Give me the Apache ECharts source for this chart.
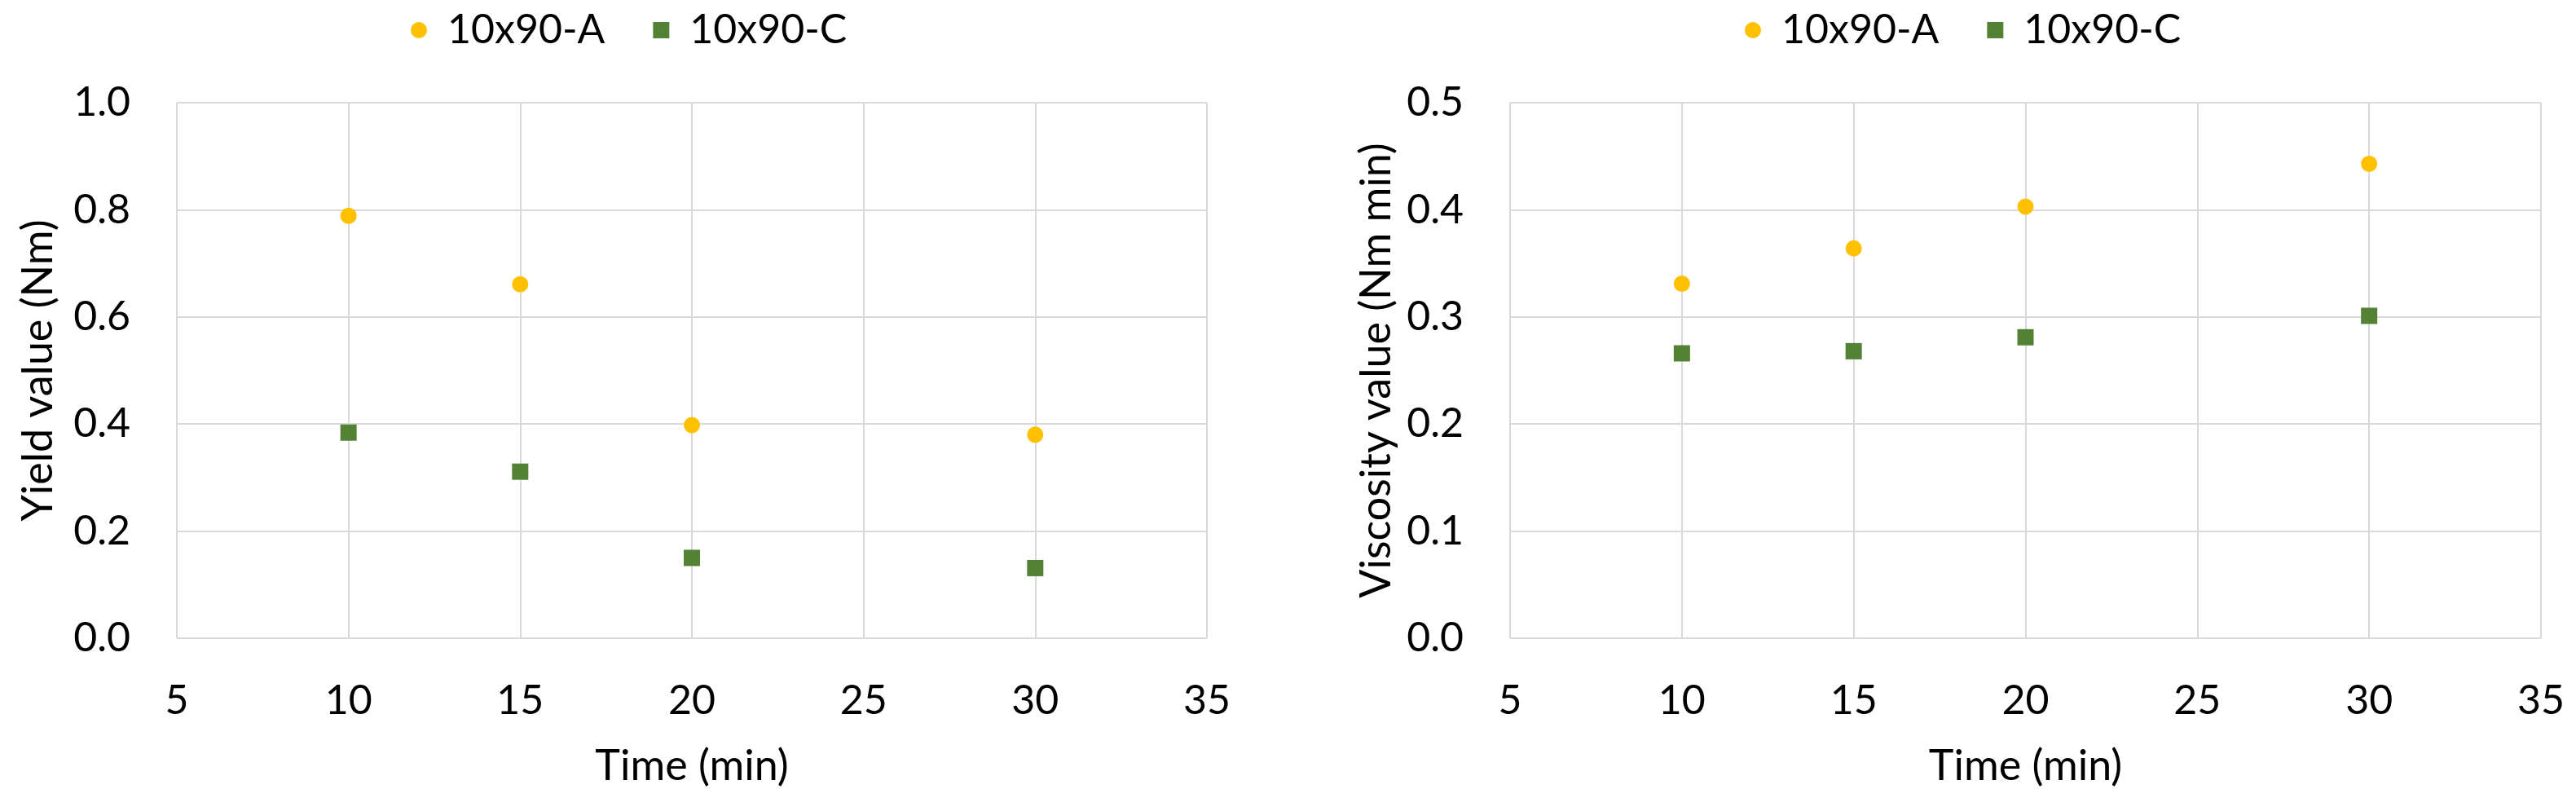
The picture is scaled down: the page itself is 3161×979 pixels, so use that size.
<!DOCTYPE html>
<html>
<head>
<meta charset="utf-8">
<script src="https://cdn.jsdelivr.net/npm/echarts@6/dist/echarts.min.js"></script>
<style>
  html, body { margin: 0; padding: 0; background: #ffffff; }
  #chart { width: 3161px; height: 979px; }
</style>
</head>
<body>
<div id="chart"></div>
<script>
// ---- data ----
const times = [10, 15, 20, 30];
const seriesNames = ['10x90-A', '10x90-C'];
const yieldA = [0.789, 0.661, 0.398, 0.380];
const yieldC = [0.384, 0.311, 0.150, 0.131];
const viscA = [0.331, 0.364, 0.403, 0.443];
const viscC = [0.266, 0.268, 0.281, 0.301];
const xTitle = 'Time (min)';
const yTitles = ['Yield value (Nm)', 'Viscosity value (Nm min)'];

// ---- styles ----
const FONT = 'Lato';
const TXT = '#000000';
const GRID = '#D9D9D9';
const colA = '#FFC000';
const colC = '#548235';

function pairs(xs, ys) { return xs.map((x, i) => [x, ys[i]]); }

function xAxisFor(gi) {
  return {
    gridIndex: gi, type: 'value', min: 5, max: 35, interval: 5,
    name: xTitle, nameLocation: 'middle', nameGap: 131,
    nameTextStyle: { fontFamily: FONT, fontSize: 52, color: TXT, lineHeight: 52 },
    axisLine: { show: false }, axisTick: { show: false },
    axisLabel: { fontFamily: FONT, fontSize: 50, color: TXT, margin: 52, lineHeight: 50 },
    splitLine: { show: true, lineStyle: { color: GRID, width: 2 } }
  };
}
function yAxisFor(gi, max, interval, title, gap) {
  return {
    gridIndex: gi, type: 'value', min: 0, max: max, interval: interval,
    name: title, nameLocation: 'middle', nameGap: gap,
    nameTextStyle: { fontFamily: FONT, fontSize: 52, color: TXT, lineHeight: 52 },
    axisLine: { show: false }, axisTick: { show: false },
    axisLabel: { fontFamily: FONT, fontSize: 50, color: TXT, margin: 57,
      formatter: v => Number(v).toFixed(1) },
    splitLine: { show: true, lineStyle: { color: GRID, width: 2 } }
  };
}
function legendFor(left) {
  return {
    left: left, top: 7, padding: 0, itemGap: 59,
    itemWidth: 20, itemHeight: 20,
    data: seriesNames,
    textStyle: { fontFamily: FONT, fontSize: 50, color: TXT, lineHeight: 60, padding: [0, 0, 0, 20] }
  };
}

const chart = echarts.init(document.getElementById('chart'), null, { renderer: 'canvas' });
chart.setOption({
  backgroundColor: '#ffffff',
  animation: false,
  grid: [
    { left: 217, top: 126, width: 1264, height: 657 },
    { left: 1853, top: 126, width: 1265, height: 657 }
  ],
  legend: [legendFor(504), legendFor(2141)],
  xAxis: [xAxisFor(0), xAxisFor(1)],
  yAxis: [
    yAxisFor(0, 1.0, 0.2, yTitles[0], 144),
    yAxisFor(1, 0.5, 0.1, yTitles[1], 138)
  ],
  series: [
    { name: seriesNames[0], type: 'scatter', xAxisIndex: 0, yAxisIndex: 0,
      symbol: 'circle', symbolSize: 20, itemStyle: { color: colA, opacity: 1 }, data: pairs(times, yieldA) },
    { name: seriesNames[1], type: 'scatter', xAxisIndex: 0, yAxisIndex: 0,
      symbol: 'rect', symbolSize: 20, itemStyle: { color: colC, opacity: 1 }, data: pairs(times, yieldC) },
    { name: seriesNames[0], type: 'scatter', xAxisIndex: 1, yAxisIndex: 1,
      symbol: 'circle', symbolSize: 20, itemStyle: { color: colA, opacity: 1 }, data: pairs(times, viscA) },
    { name: seriesNames[1], type: 'scatter', xAxisIndex: 1, yAxisIndex: 1,
      symbol: 'rect', symbolSize: 20, itemStyle: { color: colC, opacity: 1 }, data: pairs(times, viscC) }
  ]
});
</script>
</body>
</html>
